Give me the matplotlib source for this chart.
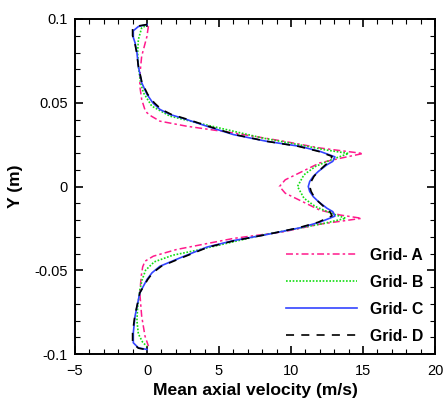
import matplotlib
matplotlib.use("Agg")
import matplotlib.pyplot as plt
from matplotlib.ticker import MultipleLocator, FuncFormatter

plt.rcParams['font.family'] = ['Liberation Sans', 'DejaVu Sans']
plt.rcParams['lines.scale_dashes'] = False

# ---- data ----
yA = [0.0957, 0.093, 0.0897, 0.0778, 0.068, 0.060, 0.052, 0.046, 0.044, 0.042, 0.039, 0.036,
      0.032, 0.027, 0.023, 0.0197, 0.017, 0.0141, 0.0082, 0.004, 0.0,
      -0.004, -0.0082, -0.0141, -0.017, -0.019, -0.0225, -0.027, -0.031, -0.0376, -0.0416,
      -0.0446, -0.048, -0.0535, -0.0635, -0.0774, -0.0893, -0.0953]
xA = [0.1, 0.05, 0.0, -0.37, -0.48, -0.5, -0.37, -0.15, 0.0, 0.3, 0.9, 2.75,
      6.0, 9.5, 12.0, 15.0, 13.5, 12.0, 10.6, 9.6, 9.2,
      9.6, 10.6, 12.0, 13.4, 14.9, 12.0, 9.5, 6.0, 2.06, 0.44,
      -0.14, -0.3, -0.4, -0.5, -0.37, -0.14, 0.1]

yB = [0.0957, 0.0947, 0.0878, 0.080, 0.0718, 0.062, 0.056, 0.048, 0.042, 0.038, 0.034,
      0.029, 0.025, 0.022, 0.0197, 0.016, 0.012, 0.007, 0.0,
      -0.007, -0.012, -0.016, -0.019, -0.022, -0.025, -0.029, -0.034, -0.038, -0.041,
      -0.045, -0.050, -0.056, -0.062, -0.072, -0.080, -0.088, -0.093, -0.0955]
xB = [-0.14, -0.37, -0.6, -0.65, -0.6, -0.45, -0.25, 0.33, 1.6, 3.5, 5.5,
      8.0, 10.5, 12.3, 14.0, 12.8, 11.7, 10.9, 10.45,
      10.9, 11.7, 12.8, 13.8, 12.3, 10.5, 8.0, 5.5, 3.5, 1.8,
      0.5, -0.1, -0.35, -0.5, -0.65, -0.7, -0.6, -0.3, 0.0]

yC = [0.0967, 0.0955, 0.093, 0.089, 0.0858, 0.080, 0.0718, 0.062, 0.055, 0.050, 0.046,
      0.043, 0.040, 0.036, 0.031, 0.027, 0.024, 0.021, 0.0177, 0.015, 0.013, 0.009,
      0.0061, 0.003, 0.0,
      -0.003, -0.0061, -0.009, -0.013, -0.015, -0.0177, -0.0213, -0.0247, -0.0287,
      -0.0323, -0.0362, -0.0426, -0.0476, -0.0515, -0.0555, -0.0635, -0.0774, -0.0873,
      -0.0933, -0.0963, -0.0973]
xC = [0.0, -0.6, -0.95, -0.95, -0.83, -0.7, -0.6, -0.37, 0.0, 0.4, 0.9,
      1.6, 2.75, 4.15, 6.0, 8.3, 10.6, 12.0, 13.05, 12.9, 12.5, 11.9,
      11.55, 11.3, 11.2,
      11.3, 11.55, 11.9, 12.5, 12.9, 13.05, 12.0, 10.6, 8.3,
      6.0, 4.15, 2.3, 0.9, 0.35, 0.0, -0.5, -0.83, -0.95,
      -0.95, -0.6, 0.0]

yD = [0.0967, 0.096, 0.094, 0.090, 0.0858, 0.080, 0.0718, 0.062, 0.055, 0.050, 0.046,
      0.043, 0.040, 0.036, 0.031, 0.027, 0.024, 0.021, 0.018, 0.015, 0.013, 0.009,
      0.0061, 0.003, 0.0,
      -0.003, -0.0061, -0.009, -0.013, -0.015, -0.0175, -0.0213, -0.0247, -0.0287,
      -0.0323, -0.0362, -0.0426, -0.0476, -0.0515, -0.0555, -0.0635, -0.0774, -0.0873,
      -0.0935, -0.0965, -0.0975]
xD = [0.0, -0.5, -1.0, -1.0, -0.85, -0.72, -0.6, -0.35, 0.05, 0.5, 1.0,
      1.7, 2.85, 4.25, 6.1, 8.3, 10.5, 11.9, 12.85, 12.7, 12.4, 11.9,
      11.6, 11.4, 11.3,
      11.4, 11.6, 11.9, 12.4, 12.7, 12.85, 11.9, 10.5, 8.3,
      6.1, 4.25, 2.4, 1.0, 0.4, 0.05, -0.5, -0.85, -1.0,
      -1.0, -0.6, 0.0]

labels = ['Grid- A', 'Grid- B', 'Grid- C', 'Grid- D']
xticks = [-5, 0, 5, 10, 15, 20]
yticks = [-0.1, -0.05, 0, 0.05, 0.1]

fig = plt.figure(figsize=(4.43, 4.0), dpi=100)
ax = fig.add_axes([75/443, 1-354/400, 360/443, 335/400])

ax.plot(xA, yA, color='#FF1A8C', lw=1.1, dashes=(5, 2.2, 1.8, 2.2), label=labels[0])
ax.plot(xB, yB, color='#11DD11', lw=1.2, dashes=(1.2, 1.2), label=labels[1])
ax.plot(xC, yC, color='#3344FF', lw=1.2, label=labels[2])
ax.plot(xD, yD, color='black', lw=1.2, dashes=(5.8, 5.2), label=labels[3])

ax.set_xlim(-5, 20)
ax.set_ylim(-0.1, 0.1)
ax.set_xticks(xticks)
ax.set_yticks(yticks)
ax.xaxis.set_minor_locator(MultipleLocator(1))
ax.yaxis.set_minor_locator(MultipleLocator(0.01))
ax.yaxis.set_major_formatter(FuncFormatter(lambda v, p: '0' if abs(v) < 1e-9 else ('%g' % v)))
ax.tick_params(which='both', direction='in', top=True, right=True, labelsize=10.5, color='black')
ax.tick_params(which='major', length=6, width=1.2, pad=5)
ax.tick_params(axis='x', which='major', pad=7)
ax.tick_params(which='minor', length=3.5, width=0.8)
for s in ax.spines.values():
    s.set_linewidth(1.4)

ax.set_xlabel('Mean axial velocity (m/s)', fontsize=12.6, fontweight='bold', labelpad=4)
ax.set_ylabel('Y (m)', fontsize=12.6, fontweight='bold', labelpad=8)

leg = ax.legend(loc='upper left', bbox_to_anchor=(278/443, 1-240/400), bbox_transform=fig.transFigure,
                frameon=False, borderpad=0, handlelength=4.55, handletextpad=0.83,
                labelspacing=0.76, prop={'weight': 'bold', 'size': 11.3})

fig.savefig('out.png', dpi=100)
